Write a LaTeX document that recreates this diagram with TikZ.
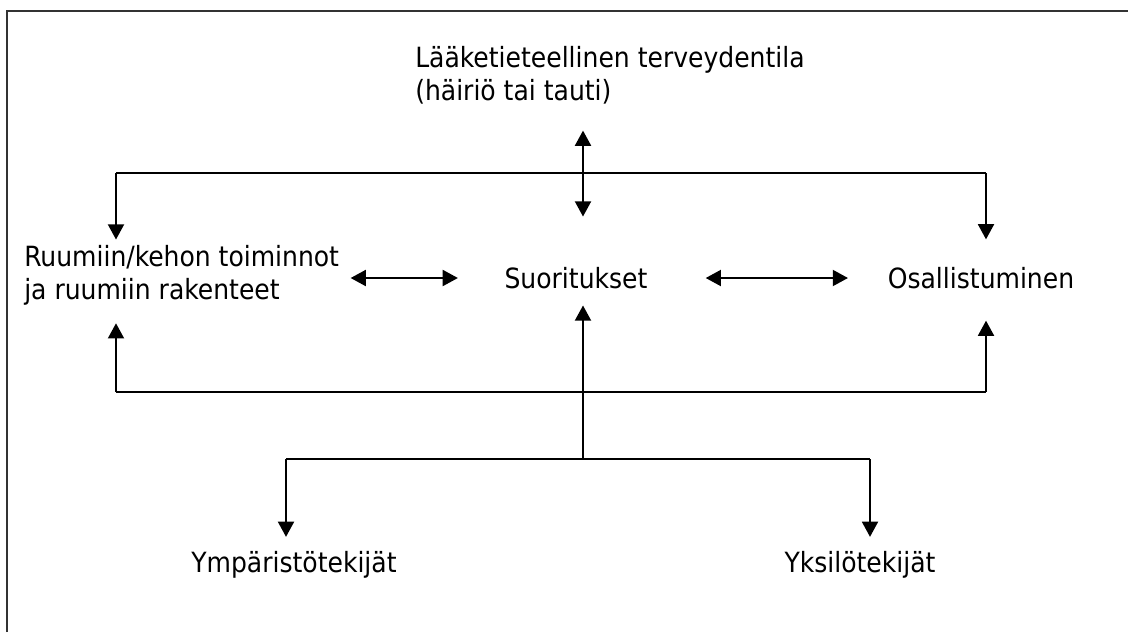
\documentclass[tikz,border=0pt]{standalone}
\usepackage{fontspec}
\setmainfont{DejaVu Sans Condensed}
\usetikzlibrary{arrows.meta}

\begin{document}
\begin{tikzpicture}[x=0.025cm,y=-0.025cm,
  lbl/.style={font=\fontsize{19.8}{23.5}\selectfont,inner sep=0pt,align=left},
  link/.style={line width=1.4pt},
  tip/.style={link,-{Triangle[length=0.38cm,width=0.4cm]}},
  dbl/.style={link,{Triangle[length=0.38cm,width=0.4cm]}-{Triangle[length=0.38cm,width=0.4cm]}}]
\useasboundingbox (0,0) rectangle (1128,632);
\draw[line width=2pt,black!80] (7,632) -- (7,11) -- (1128,11);

\node[lbl,anchor=west] (health) at (415,75) {Lääketieteellinen terveydentila\\(häiriö tai tauti)};
\node[lbl,anchor=west] (body) at (24,275) {Ruumiin/kehon toiminnot\\ja ruumiin rakenteet};
\node[lbl] (activ) at (576,278) {Suoritukset};
\node[lbl] (partic) at (981,278) {Osallistuminen};
\node[lbl] (env) at (294,565) {Ympäristötekijät};
\node[lbl] (pers) at (860,565) {Yksilötekijät};

\coordinate (tl) at (116,173); \coordinate (tc) at (583,173); \coordinate (tr) at (986,173);
\coordinate (bl) at (116,392); \coordinate (bc) at (583,392); \coordinate (br) at (986,392);
\coordinate (fl) at (286,459); \coordinate (fc) at (583,459); \coordinate (fr) at (870,459);

% upper frame
\draw[link] (tl) -- (tr);
\draw[dbl,shorten <=0.66cm,shorten >=1.26cm] (health.south -| tc) -- (activ.north -| tc);
\draw[tip,shorten >=0.13cm] (tl) -- (tl |- body.north);
\draw[tip,shorten >=0.69cm] (tr) -- (tr |- partic.north);
% middle row
\draw[dbl,shorten <=0.28cm,shorten >=1.16cm] (body.east |- activ) -- (activ.west);
\draw[dbl,shorten <=1.45cm,shorten >=0.99cm] (activ.east) -- (partic.west);
% lower frame
\draw[link] (bl) -- (br);
\draw[tip,shorten >=0.45cm] (bl) -- (bl |- body.south);
\draw[tip,shorten >=0.79cm] (br) -- (br |- partic.south);
\draw[tip,shorten >=0.41cm] (fc) -- (fc |- activ.south);
% factors
\draw[link] (fl) -- (fr);
\draw[tip,shorten >=0.36cm] (fl) -- (fl |- env.north);
\draw[tip,shorten >=0.36cm] (fr) -- (fr |- pers.north);
\end{tikzpicture}
\end{document}
